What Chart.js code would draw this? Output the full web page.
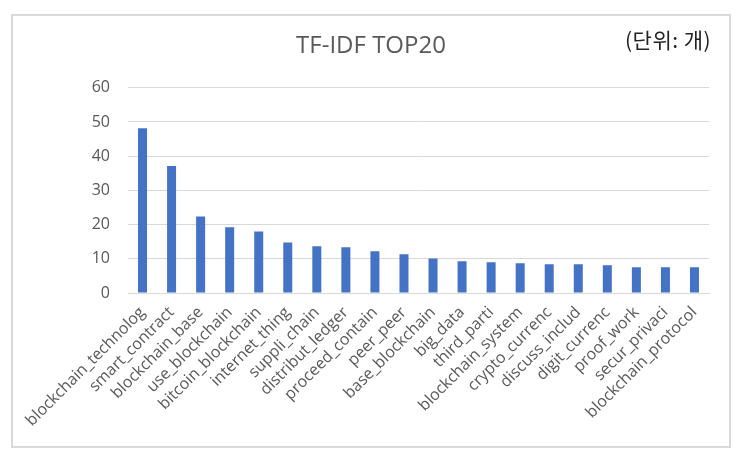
<!DOCTYPE html>
<html>
<head>
<meta charset="utf-8">
<script src="https://cdn.jsdelivr.net/npm/chart.js@4.4.1/dist/chart.umd.min.js"></script>
<style>
  html, body { margin:0; padding:0; background:#fff; }
  #wrap { position:relative; width:743px; height:460px; }
  #frame { position:absolute; left:11px; top:14px; width:716px; height:430px; border:2px solid #d9d9d9; pointer-events:none; }
  #unit { position:absolute; left:625px; top:24px; font:21px "Noto Sans CJK KR", "Noto Sans", sans-serif; color:#222; letter-spacing:0.5px; }
</style>
</head>
<body>
<div id="wrap">
  <canvas id="tfidfChart" width="743" height="460"></canvas>
  <div id="frame"></div>
  <div id="unit">(단위: 개)</div>
</div>
<script>
const terms = ['blockchain_technolog','smart_contract','blockchain_base','use_blockchain','bitcoin_blockchain',
  'internet_thing','suppli_chain','distribut_ledger','proceed_contain','peer_peer',
  'base_blockchain','big_data','third_parti','blockchain_system','crypto_currenc',
  'discuss_includ','digit_currenc','proof_work','secur_privaci','blockchain_protocol'];
const scores = [48.2, 37.1, 22.4, 19.2, 18.0, 14.8, 13.7, 13.4, 12.2, 11.3,
  10.1, 9.3, 9.0, 8.7, 8.4, 8.4, 8.1, 7.5, 7.5, 7.5];
const yTicks = [0, 10, 20, 30, 40, 50, 60];

const ctx = document.getElementById('tfidfChart').getContext('2d');
new Chart(ctx, {
  type: 'bar',
  data: { labels: terms, datasets: [{ label: 'TF-IDF', data: scores, backgroundColor:'#4472C4', barPercentage:0.31, categoryPercentage:1 }] },
  options: {
    responsive:false,
    animation:false,
    layout:{ padding:{ left:33, right:34, top:0, bottom:0 } },
    plugins:{
      legend:{ display:false },
      tooltip:{ enabled:false },
      title:{ display:true, text:'TF-IDF TOP20', color:'#595959', font:{ family:'Open Sans', size:24, weight:'normal' }, padding:{ top:32, bottom:27 } }
    },
    scales:{
      x:{
        grid:{ display:false },
        border:{ display:true, color:'#d9d9d9', width:1 },
        ticks:{ color:'#595959', font:{ family:'Open Sans', size:16 }, minRotation:45, maxRotation:45, autoSkip:false, padding:2 },
        afterFit(scale){ scale.height = 167; }
      },
      y:{
        min:0, max:60,
        afterBuildTicks(scale){ scale.ticks = yTicks.map(v => ({ value:v })); },
        grid:{ color:'#d9d9d9', lineWidth:1, drawTicks:false },
        border:{ display:false },
        ticks:{ color:'#595959', font:{ family:'Open Sans', size:16 }, padding:18 },
        afterFit(scale){ scale.width = 95; }
      }
    }
  }
});
</script>
</body>
</html>
